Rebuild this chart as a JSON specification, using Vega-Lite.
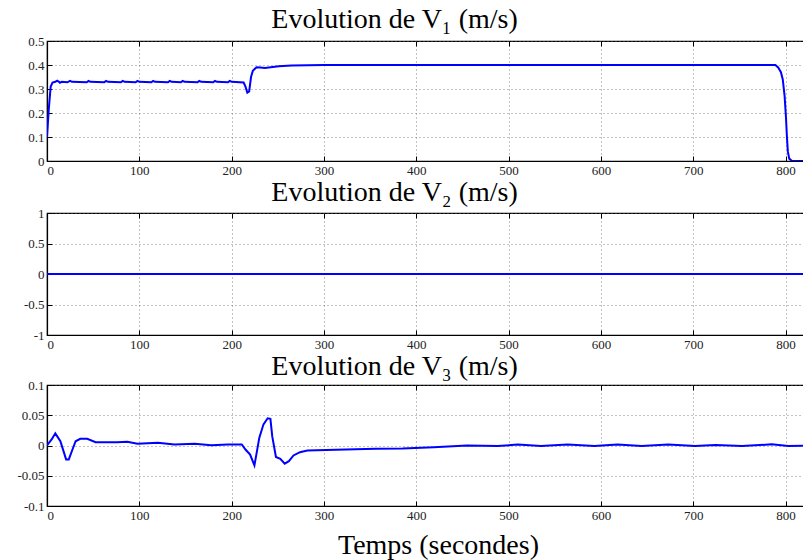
{
  "$schema": "https://vega.github.io/schema/vega-lite/v6.json",
  "padding": {"left": 5, "top": 5, "right": 0, "bottom": 0},
  "background": "white",
  "spacing": 0,
  "config": {
    "view": {"stroke": "black", "strokeWidth": 1.2},
    "font": "Liberation Serif",
    "style": {"guide-label": {"font": "Liberation Serif", "fontSize": 13, "fill": "#222"}},
    "title": {"font": "Liberation Serif", "fontSize": 28, "fontWeight": "normal", "color": "black", "dx": -31, "offset": 1},
    "axis": {
      "labelFont": "Liberation Serif", "labelFontSize": 13, "labelColor": "#222", "labelOverlap": false,
      "domainColor": "black", "domainWidth": 1.2,
      "tickColor": "black", "tickSize": -5, "labelPadding": 8,
      "gridColor": "#666", "gridDash": [1, 3], "gridWidth": 0.8, "grid": true,
      "title": null
    }
  },
  "datasets": {
    "v1": [
      {"t": 0, "v": 0.10}, {"t": 2, "v": 0.22}, {"t": 4, "v": 0.31}, {"t": 6, "v": 0.327},
      {"t": 9, "v": 0.33}, {"t": 11, "v": 0.335}, {"t": 13, "v": 0.33}, {"t": 14, "v": 0.326}, {"t": 16, "v": 0.33}, {"t": 22, "v": 0.328},
      {"t": 25, "v": 0.334}, {"t": 27, "v": 0.33}, {"t": 43, "v": 0.328}, {"t": 45, "v": 0.334}, {"t": 47, "v": 0.33},
      {"t": 62, "v": 0.328}, {"t": 64, "v": 0.334}, {"t": 66, "v": 0.33}, {"t": 80, "v": 0.328}, {"t": 82, "v": 0.334}, {"t": 84, "v": 0.33},
      {"t": 96, "v": 0.328}, {"t": 98, "v": 0.334}, {"t": 100, "v": 0.33}, {"t": 113, "v": 0.328}, {"t": 115, "v": 0.334}, {"t": 117, "v": 0.33},
      {"t": 131, "v": 0.328}, {"t": 133, "v": 0.334}, {"t": 135, "v": 0.33}, {"t": 145, "v": 0.328}, {"t": 147, "v": 0.334}, {"t": 149, "v": 0.33},
      {"t": 163, "v": 0.328}, {"t": 165, "v": 0.334}, {"t": 167, "v": 0.33}, {"t": 180, "v": 0.328}, {"t": 182, "v": 0.334}, {"t": 184, "v": 0.33},
      {"t": 196, "v": 0.328}, {"t": 198, "v": 0.334}, {"t": 200, "v": 0.33}, {"t": 213, "v": 0.327},
      {"t": 215, "v": 0.31}, {"t": 217, "v": 0.285}, {"t": 219, "v": 0.29}, {"t": 221, "v": 0.35}, {"t": 223, "v": 0.376},
      {"t": 227, "v": 0.391}, {"t": 231, "v": 0.39}, {"t": 236, "v": 0.388}, {"t": 251, "v": 0.395}, {"t": 265, "v": 0.398},
      {"t": 300, "v": 0.4}, {"t": 500, "v": 0.4}, {"t": 789, "v": 0.4},
      {"t": 792, "v": 0.39}, {"t": 795, "v": 0.37}, {"t": 797, "v": 0.34}, {"t": 799, "v": 0.27}, {"t": 800.5, "v": 0.18},
      {"t": 801.5, "v": 0.1}, {"t": 802.5, "v": 0.04}, {"t": 804, "v": 0.01}, {"t": 807, "v": 0.0}, {"t": 820, "v": 0.0}
    ],
    "v2": [
      {"t": 0, "v": 0}, {"t": 820, "v": 0}
    ],
    "v3": [
      {"t": 0, "v": 0}, {"t": 5, "v": 0.01}, {"t": 9, "v": 0.02}, {"t": 14.5, "v": 0.007}, {"t": 20.7, "v": -0.023}, {"t": 23.6, "v": -0.023},
      {"t": 28, "v": -0.005}, {"t": 31, "v": 0.007}, {"t": 36, "v": 0.011}, {"t": 43.6, "v": 0.011}, {"t": 52.7, "v": 0.0055},
      {"t": 76, "v": 0.0055}, {"t": 87, "v": 0.006}, {"t": 98, "v": 0.003}, {"t": 120, "v": 0.0044}, {"t": 138, "v": 0.0017},
      {"t": 160, "v": 0.003}, {"t": 178, "v": 0.0005}, {"t": 196, "v": 0.0017}, {"t": 211, "v": 0.0017}, {"t": 215, "v": -0.0066},
      {"t": 220, "v": -0.015}, {"t": 224.7, "v": -0.033}, {"t": 230, "v": 0.013}, {"t": 234.5, "v": 0.035}, {"t": 239, "v": 0.045},
      {"t": 242, "v": 0.044}, {"t": 244, "v": 0.015}, {"t": 248, "v": -0.019}, {"t": 252.7, "v": -0.022}, {"t": 257.5, "v": -0.03},
      {"t": 262, "v": -0.026}, {"t": 267, "v": -0.0165}, {"t": 274, "v": -0.011}, {"t": 282, "v": -0.0083}, {"t": 313, "v": -0.0072},
      {"t": 356, "v": -0.0055}, {"t": 385, "v": -0.005}, {"t": 419, "v": -0.003}, {"t": 455, "v": 0}, {"t": 488, "v": -0.001},
      {"t": 510, "v": 0.0015}, {"t": 535, "v": -0.001}, {"t": 564, "v": 0.0015}, {"t": 593, "v": -0.001}, {"t": 618, "v": 0.0015},
      {"t": 644, "v": -0.001}, {"t": 673, "v": 0.0015}, {"t": 702, "v": -0.001}, {"t": 724, "v": 0.001}, {"t": 753, "v": -0.001},
      {"t": 785, "v": 0.002}, {"t": 803, "v": -0.001}, {"t": 822, "v": -0.0005}
    ]
  },
  "vconcat": [
    {
      "width": 757, "height": 120,
      "title": {"text": "Evolution de V₁ (m/s)"},
      "data": {"name": "v1"},
      "layer": [
        {
          "mark": {"type": "line", "color": "#0000ff", "strokeWidth": 2, "clip": true},
          "encoding": {
            "x": {"field": "t", "type": "quantitative", "scale": {"domain": [0, 820], "nice": false, "zero": false},
                  "axis": {"values": [0, 100, 200, 300, 400, 500, 600, 700, 800], "labelExpr": "'' + datum.value", "labelFont": "Liberation Serif"}},
            "y": {"field": "v", "type": "quantitative", "scale": {"domain": [0, 0.5], "nice": false},
                  "axis": {"values": [0, 0.1, 0.2, 0.3, 0.4, 0.5], "labelExpr": "'' + datum.value", "labelFont": "Liberation Serif", "minExtent": 41, "maxExtent": 41}}
          }
        },
        {
          "mark": {"type": "rule", "opacity": 0},
          "encoding": {
            "x": {"field": "t", "type": "quantitative", "scale": {"domain": [0, 820], "nice": false, "zero": false},
                  "axis": {"orient": "top", "values": [0, 100, 200, 300, 400, 500, 600, 700, 800], "labels": false, "grid": false, "domain": false}}
          }
        }
      ],
      "resolve": {"axis": {"x": "independent"}}
    },
    {
      "width": 757, "height": 122,
      "title": {"text": "Evolution de V₂ (m/s)", "offset": 0},
      "data": {"name": "v2"},
      "layer": [
        {
          "mark": {"type": "line", "color": "#0000ff", "strokeWidth": 2, "clip": true},
          "encoding": {
            "x": {"field": "t", "type": "quantitative", "scale": {"domain": [0, 820], "nice": false, "zero": false},
                  "axis": {"values": [0, 100, 200, 300, 400, 500, 600, 700, 800], "labelExpr": "'' + datum.value", "labelFont": "Liberation Serif"}},
            "y": {"field": "v", "type": "quantitative", "scale": {"domain": [-1, 1], "nice": false},
                  "axis": {"values": [-1, -0.5, 0, 0.5, 1], "labelExpr": "'' + datum.value", "labelFont": "Liberation Serif", "minExtent": 41, "maxExtent": 41}}
          }
        },
        {
          "mark": {"type": "rule", "opacity": 0},
          "encoding": {
            "x": {"field": "t", "type": "quantitative", "scale": {"domain": [0, 820], "nice": false, "zero": false},
                  "axis": {"orient": "top", "values": [0, 100, 200, 300, 400, 500, 600, 700, 800], "labels": false, "grid": false, "domain": false}}
          }
        }
      ],
      "resolve": {"axis": {"x": "independent"}}
    },
    {
      "width": 757, "height": 121,
      "title": {"text": "Evolution de V₃ (m/s)", "offset": -2},
      "data": {"name": "v3"},
      "layer": [
        {
          "mark": {"type": "line", "color": "#0000ff", "strokeWidth": 2, "clip": true},
          "encoding": {
            "x": {"field": "t", "type": "quantitative", "scale": {"domain": [0, 820], "nice": false, "zero": false},
                  "axis": {"values": [0, 100, 200, 300, 400, 500, 600, 700, 800], "labelExpr": "'' + datum.value", "labelFont": "Liberation Serif",
                           "title": "Temps (secondes)", "titleFont": "Liberation Serif", "titleFontSize": 28, "titleFontWeight": "normal", "titleColor": "black", "titleX": 391, "titlePadding": 9}},
            "y": {"field": "v", "type": "quantitative", "scale": {"domain": [-0.1, 0.1], "nice": false},
                  "axis": {"values": [-0.1, -0.05, 0, 0.05, 0.1], "labelExpr": "'' + datum.value", "labelFont": "Liberation Serif", "minExtent": 41, "maxExtent": 41}}
          }
        },
        {
          "mark": {"type": "rule", "opacity": 0},
          "encoding": {
            "x": {"field": "t", "type": "quantitative", "scale": {"domain": [0, 820], "nice": false, "zero": false},
                  "axis": {"orient": "top", "values": [0, 100, 200, 300, 400, 500, 600, 700, 800], "labels": false, "grid": false, "domain": false}}
          }
        }
      ],
      "resolve": {"axis": {"x": "independent"}}
    }
  ]
}
